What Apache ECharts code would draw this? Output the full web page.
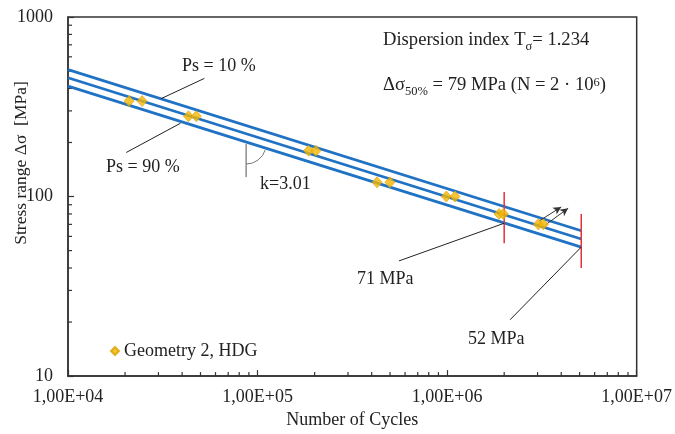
<!DOCTYPE html>
<html lang="en">
<head>
    <meta charset="UTF-8">
    <script src="https://cdn.jsdelivr.net/npm/echarts@6/dist/echarts.min.js"></script>
    <title>S-N curve</title>
    <style>
        html, body { margin: 0; padding: 0; background: #fff; }
    </style>
</head>
<body>
<div id="main" style="width: 675px;height:434px;"></div>
<script type="text/javascript">
    // test results
    var cycles = [2.1e4, 2.46e4, 4.32e4, 4.75e4, 1.86e5, 2.03e5, 4.27e5, 4.99e5, 9.9e5, 1.1e6, 1.88e6, 1.98e6, 3.03e6, 3.22e6];
    var stress = [340, 340, 280, 280, 180, 180, 120, 120, 100, 100, 80, 80, 70, 70];

    // regression lines (start / end)
    var lineCycles = [1e4, 5.1e6];
    var ps10 = [509, 64.5];
    var ps50 = [459, 58];
    var ps90 = [412, 52.3];

    // red markers at N = 2e6 and knee point
    var redMarks = [
        [[2e6, 106], [2e6, 55]],
        [[5.1e6, 80], [5.1e6, 40]]
    ];
    // leader lines for the labels
    var leaders = [
        [[5.24e4, 455], [3.1e4, 351]],
        [[3.92e4, 256], [2.03e4, 176]],
        [[2e6, 71], [5.57e5, 43.8]],
        [[5.1e6, 52.3], [2.15e6, 20.6]]
    ];
    // run-out arrows
    var runouts = [
        [[3.05e6, 73], [4.0e6, 87.5]],
        [[3.3e6, 69.5], [4.35e6, 86]]
    ];
    // slope marker position
    var slopeMark = [8.7e4, 196];

    // minor ticks
    var xMinor = [2e4, 3e4, 4e4, 5e4, 6e4, 7e4, 8e4, 9e4, 2e5, 3e5, 4e5, 5e5, 6e5, 7e5, 8e5, 9e5, 2e6, 3e6, 4e6, 5e6, 6e6, 7e6, 8e6, 9e6];
    var yMinor = [20, 30, 40, 50, 60, 70, 80, 90, 200, 300, 400, 500, 600, 700, 800, 900];

    var serif = '"Liberation Serif", "Times New Roman", serif';
    var txt = '#222';

    var myChart = echarts.init(document.getElementById('main'));

    function pairs(xs, ys) {
        return xs.map(function (x, i) { return [x, ys[i]]; });
    }

    function segSeries(seg, color, width) {
        return {
            type: 'line',
            data: seg,
            symbol: 'none',
            silent: true,
            animation: false,
            z: 3,
            lineStyle: { color: color, width: width }
        };
    }

    var series = [
        {
            name: 'Geometry 2, HDG',
            type: 'scatter',
            symbol: 'diamond',
            symbolSize: [10, 11],
            z: 5,
            itemStyle: { color: '#f2b705', borderColor: '#dba000', borderWidth: 0.8 },
            data: pairs(cycles, stress)
        }
    ];
    [ps10, ps50, ps90].forEach(function (p) {
        series.push(segSeries(pairs(lineCycles, p), '#1f72c4', 2.7));
    });
    redMarks.forEach(function (s) { series.push(segSeries(s, '#e2313b', 1.5)); });
    leaders.forEach(function (s) { series.push(segSeries(s, '#222', 1)); });

    // arrows
    series.push({
        type: 'line',
        data: [],
        silent: true,
        markLine: {
            silent: true,
            animation: false,
            symbol: ['none', 'arrow'],
            symbolSize: [6, 8],
            label: { show: false },
            lineStyle: { color: '#333', width: 1, type: 'solid' },
            data: runouts.map(function (r) {
                return [{ coord: r[0] }, { coord: r[1] }];
            })
        }
    });

    // slope angle marker
    series.push({
        type: 'custom',
        silent: true,
        animation: false,
        data: [slopeMark],
        renderItem: function (params, api) {
            var p = api.coord([api.value(0), api.value(1)]);
            var a = api.coord([lineCycles[0], ps90[0]]);
            var b = api.coord([lineCycles[1], ps90[1]]);
            var ang = Math.atan2(b[1] - a[1], b[0] - a[0]);
            return {
                type: 'group',
                children: [
                    { type: 'line', shape: { x1: p[0], y1: p[1], x2: p[0], y2: p[1] + 33 }, style: { stroke: '#555', lineWidth: 1 } },
                    { type: 'arc', shape: { cx: p[0], cy: p[1], r: 20, startAngle: ang, endAngle: Math.PI / 2, clockwise: true }, style: { stroke: '#777', fill: null, lineWidth: 1 } }
                ]
            };
        }
    });

    // minor ticks x
    series.push({
        type: 'custom',
        silent: true,
        animation: false,
        clip: false,
        data: xMinor.map(function (v) { return [v, 10]; }),
        renderItem: function (params, api) {
            var p = api.coord([api.value(0), api.value(1)]);
            return { type: 'line', shape: { x1: p[0], y1: p[1], x2: p[0], y2: p[1] - 4 }, style: { stroke: '#333', lineWidth: 1.2 } };
        }
    });
    // minor ticks y
    series.push({
        type: 'custom',
        silent: true,
        animation: false,
        clip: false,
        data: yMinor.map(function (v) { return [1e4, v]; }),
        renderItem: function (params, api) {
            var p = api.coord([api.value(0), api.value(1)]);
            return { type: 'line', shape: { x1: p[0], y1: p[1], x2: p[0] + 4, y2: p[1] }, style: { stroke: '#333', lineWidth: 1.2 } };
        }
    });

    function note(text, x, y, extra) {
        var t = {
            type: 'text',
            x: x,
            y: y,
            silent: true,
            style: {
                text: text,
                fontFamily: serif,
                fontSize: 18,
                fill: txt,
                align: 'left',
                verticalAlign: 'middle'
            }
        };
        if (extra) {
            for (var k in extra) { t.style[k] = extra[k]; }
        }
        return t;
    }

    var richTop = {
        m: { fontFamily: serif, fontSize: 18.6, color: txt, lineHeight: 20, verticalAlign: 'top' },
        sub: { fontFamily: serif, fontSize: 12.5, color: txt, lineHeight: 14, verticalAlign: 'top', padding: [9, 0, 0, 0] },
        sup: { fontFamily: serif, fontSize: 12.5, color: txt, lineHeight: 14, verticalAlign: 'top' }
    };

    var option = {
        animation: false,
        grid: {
            left: 68,
            right: 38,
            top: 17,
            bottom: 50,
            show: true,
            borderColor: '#333',
            borderWidth: 1.5,
            containLabel: false
        },
        legend: {
            data: ['Geometry 2, HDG'],
            left: 105,
            top: 337,
            icon: 'diamond',
            itemWidth: 8,
            itemHeight: 8,
            itemGap: 5,
            textStyle: { fontFamily: serif, fontSize: 18, color: txt }
        },
        xAxis: {
            type: 'log',
            logBase: 10,
            min: 1e4,
            max: 1e7,
            name: 'Number of Cycles',
            nameLocation: 'middle',
            nameGap: 31,
            nameTextStyle: { fontFamily: serif, fontSize: 18, color: txt },
            axisLine: { lineStyle: { color: '#333', width: 1.5 } },
            axisTick: { inside: true, length: 6, lineStyle: { color: '#333', width: 1.2 } },
            splitLine: { show: false },
            axisLabel: {
                fontFamily: serif,
                fontSize: 18,
                color: txt,
                margin: 12,
                formatter: function (v) {
                    var e = Math.round(Math.log10(v));
                    return '1,00E+' + (e < 10 ? '0' + e : e);
                }
            }
        },
        yAxis: {
            type: 'log',
            logBase: 10,
            min: 10,
            max: 1000,
            axisLine: { lineStyle: { color: '#333', width: 1.5 } },
            axisTick: { inside: true, length: 6, lineStyle: { color: '#333', width: 1.2 } },
            splitLine: { show: false },
            axisLabel: {
                fontFamily: serif,
                fontSize: 18,
                color: txt,
                margin: 15,
                formatter: function (v) { return String(Math.round(v)); }
            }
        },
        graphic: [
            {
                type: 'text',
                x: 21,
                y: 163,
                rotation: Math.PI / 2,
                silent: true,
                style: {
                    text: 'Stress range Δσ  [MPa]',
                    fontFamily: serif,
                    fontSize: 17.5,
                    fill: txt,
                    align: 'center',
                    verticalAlign: 'middle'
                }
            },
            note('Ps = 10 %', 182, 66),
            note('Ps = 90 %', 106, 167),
            note('k=3.01', 260, 184),
            note('71 MPa', 357, 279),
            note('52 MPa', 468, 339),
            note('{m|Dispersion index T}{sub|σ}{m|= 1.234}', 383, 31, { verticalAlign: 'top', rich: richTop }),
            note('{m|Δσ}{sub|50%}{m| = 79 MPa (N = 2 · 10}{sup|6}{m|)}', 383, 76, { verticalAlign: 'top', rich: richTop })
        ],
        series: series
    };

    myChart.setOption(option);
</script>
</body>
</html>
